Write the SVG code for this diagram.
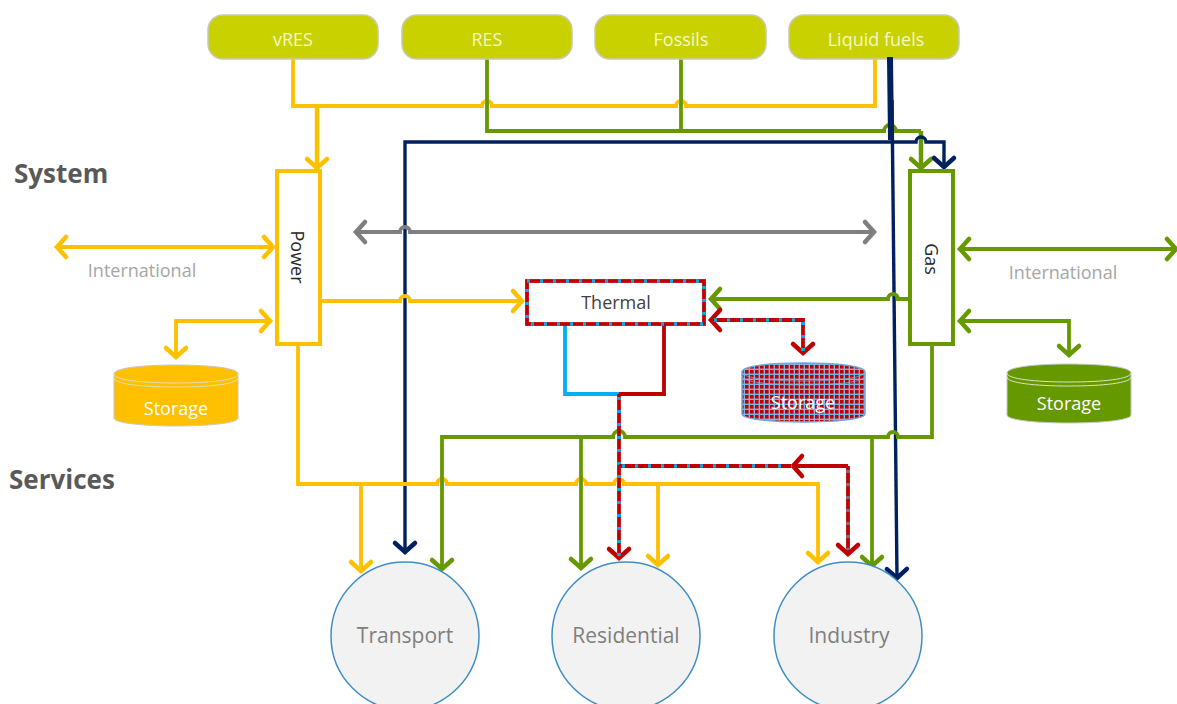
<svg xmlns="http://www.w3.org/2000/svg" width="1177" height="704" viewBox="0 0 1177 704">
<style>
text{font-family:"Open Sans","Noto Sans",sans-serif;text-anchor:middle}
.src rect{fill:#c9d200;stroke:#c8c8b8;stroke-width:1.5}
.src text{fill:#f4f7c8;font-size:18px}
.box{fill:#fff;stroke-width:4}
.hub{fill:#f2f2f2;stroke:#3f8fc4;stroke-width:1.5}
.hubt{fill:#7f7f7f;font-size:21px}
.lab{fill:#a6a6a6;font-size:18px}
.head{fill:#595959;font-size:26px;font-weight:700;text-anchor:start}
.st{fill:#fff;font-size:18px}
.c{fill:none;stroke-width:3.8;stroke-linejoin:miter}
.y{stroke:#ffc000;marker-end:url(#ay)}
.g{stroke:#669900;marker-end:url(#ag)}
.n{stroke:#002060;marker-end:url(#an)}
.r{stroke:#c00000;marker-end:url(#ar)}
.b{stroke:#00b0f0;stroke-width:3.6;stroke-dasharray:3 10;fill:none}
.no{marker-end:none}
.m{fill:none;stroke-width:4.5;stroke-linecap:round;stroke-linejoin:miter}
</style>
<defs>
<marker id="ay" markerUnits="userSpaceOnUse" markerWidth="24" markerHeight="28" refX="14" refY="14" orient="auto-start-reverse"><path class="m" stroke="#ffc000" d="M5,4 L14,14 L5,24"/></marker>
<marker id="ag" markerUnits="userSpaceOnUse" markerWidth="24" markerHeight="28" refX="14" refY="14" orient="auto-start-reverse"><path class="m" stroke="#669900" d="M5,4 L14,14 L5,24"/></marker>
<marker id="an" markerUnits="userSpaceOnUse" markerWidth="24" markerHeight="28" refX="14" refY="14" orient="auto-start-reverse"><path class="m" stroke="#002060" d="M5,4 L14,14 L5,24"/></marker>
<marker id="ar" markerUnits="userSpaceOnUse" markerWidth="24" markerHeight="28" refX="14" refY="14" orient="auto-start-reverse"><path class="m" stroke="#c00000" d="M5,4 L14,14 L5,24"/></marker>
<marker id="aa" markerUnits="userSpaceOnUse" markerWidth="24" markerHeight="28" refX="14" refY="14" orient="auto-start-reverse"><path class="m" stroke="#7f7f7f" d="M5,4 L14,14 L5,24"/></marker>
<pattern id="grid" patternUnits="userSpaceOnUse" width="5" height="5"><rect width="5" height="5" fill="#7fb5e0"/><rect width="3.6" height="3.6" fill="#c00000"/></pattern>
</defs>

<g id="connectors">
<path class="c y no" d="M293,58V106H482a5,5 0 0 1 10,0H676a5,5 0 0 1 10,0H875V58"/>
<path class="c y" style="stroke-width:4.5" d="M317,106V168"/>
<path class="c g no" d="M487,58V131H884a6,6 0 0 1 12,0H921"/>
<path class="c g no" d="M681,58V131"/>
<path class="c g" style="stroke-width:4.5" d="M921,131V168"/>
<path class="c n" style="stroke-width:3.4;marker-start:url(#an)" d="M405,552V142H916a5,5 0 0 1 10,0H944V167"/>
<path class="c n" style="stroke-width:3.4" d="M892,100L897,578"/>
<path class="c no" style="stroke:#002060;stroke-width:6" d="M890,57L891,140"/>
<path class="c" style="stroke:#7f7f7f;marker-end:url(#aa);marker-start:url(#aa)" d="M356,232H400a5,5 0 0 1 10,0H874"/>
<path class="c y" style="marker-start:url(#ay)" d="M57,247H273"/>
<path class="c y" style="marker-start:url(#ay)" d="M176,357V321H270"/>
<path class="c y" d="M320,301H400a5,5 0 0 1 10,0H522"/>
<path class="c y" d="M298,344V484H437a5,5 0 0 1 10,0H576a5,5 0 0 1 10,0H614a5,5 0 0 1 10,0H818V562"/>
<path class="c y" d="M361,484V571"/>
<path class="c y" d="M658,484V565"/>
<path class="c g" d="M911,299H898a5,5 0 0 0 -10,0H711"/>
<path class="c g" d="M932,344V437H898a5,5 0 0 0 -10,0H625a6,6 0 0 0 -12,0H442V569"/>
<path class="c g" d="M581,437V568"/>
<path class="c g" d="M872,437V566"/>
<path class="c g" style="marker-start:url(#ag)" d="M960,249H1176"/>
<path class="c g" style="marker-start:url(#ag)" d="M960,321H1069V355"/>
<path class="c no" style="stroke:#00b0f0" d="M565,324V394H619"/>
<path class="c no" style="stroke:#c00000" d="M664,324V394H619"/>
<path class="c r" d="M619,394V558"/>
<path class="b" d="M619,397V556"/>
<path class="c r no" d="M619,466H848"/>
<path class="c r" d="M800,466H793"/>
<path class="c r" d="M848,466V554"/>
<path class="b" d="M622,466H792"/>
<path class="b" style="stroke:#7f6f8f" d="M848,470V550"/>
<path class="c r" style="marker-start:url(#ar)" d="M711,320H803V353"/>
<path class="b" d="M714,320H803V351"/>
</g>

<g id="vres" class="src"><rect x="208" y="15" width="170" height="44" rx="15"/><text x="293" y="46">vRES</text></g>
<g id="res" class="src"><rect x="402" y="15" width="170" height="44" rx="15"/><text x="487" y="46">RES</text></g>
<g id="fossils" class="src"><rect x="595" y="15" width="171" height="44" rx="15"/><text x="681" y="46">Fossils</text></g>
<g id="liquid" class="src"><rect x="789" y="15" width="170" height="44" rx="15"/><text x="876" y="46">Liquid fuels</text></g>
<path d="M890,57V62" stroke="#002060" stroke-width="6"/>

<g id="power"><rect class="box" x="277" y="171" width="43" height="173" stroke="#ffc000"/><text transform="translate(291,257) rotate(90)" font-size="18" fill="#262626">Power</text></g>
<g id="gas"><rect class="box" x="910" y="171" width="43" height="173" stroke="#669900"/><text transform="translate(925,259) rotate(90)" font-size="18" fill="#262626">Gas</text></g>
<g id="thermal"><rect x="527" y="281" width="177" height="43" fill="#fff" stroke="#c00000" stroke-width="3.8"/><rect class="b" x="527" y="281" width="177" height="43"/><text x="616" y="309" font-size="18" fill="#404040">Thermal</text></g>

<g id="storage-power">
<path d="M114,374V418C114,423 142,426 176,426S238,423 238,418V374C238,368 210,365 176,365S114,368 114,374Z" fill="#ffc000" stroke="#c8c8c8"/>
<path d="M114,374C114,380 142,383 176,383S238,380 238,374M114,378C114,384 142,387 176,387S238,384 238,378" fill="none" stroke="#e6dcb0"/>
<text class="st" x="176" y="415">Storage</text></g>
<g id="storage-thermal">
<path d="M742,372V414C742,419 770,422 803,422S865,419 865,414V372C865,366 837,363 803,363S742,366 742,372Z" fill="url(#grid)" stroke="#6fa5d8" stroke-width="1.5"/>
<path d="M742,372C742,378 770,381 803,381S865,378 865,372M742,376C742,382 770,385 803,385S865,382 865,376" fill="none" stroke="#7fb5e0" opacity=".7"/>
<text class="st" x="803" y="409">Storage</text></g>
<g id="storage-gas">
<path d="M1007,373V415C1007,420 1035,423 1069,423S1131,420 1131,415V373C1131,367 1103,364 1069,364S1007,367 1007,373Z" fill="#669900" stroke="#c8c8c8"/>
<path d="M1007,373C1007,379 1035,382 1069,382S1131,379 1131,373M1007,377C1007,383 1035,386 1069,386S1131,383 1131,377" fill="none" stroke="#d8e4c0"/>
<text class="st" x="1069" y="410">Storage</text></g>

<g id="transport"><circle class="hub" cx="405" cy="636" r="74"/><text class="hubt" x="405" y="643">Transport</text></g>
<g id="residential"><circle class="hub" cx="626" cy="636" r="74"/><text class="hubt" x="626" y="643">Residential</text></g>
<g id="industry"><circle class="hub" cx="848" cy="636" r="74"/><text class="hubt" x="849" y="643">Industry</text></g>

<text class="head" x="14" y="183">System</text>
<text class="head" x="9" y="489">Services</text>
<text class="lab" x="142" y="277">International</text>
<text class="lab" x="1063" y="279">International</text>
</svg>
